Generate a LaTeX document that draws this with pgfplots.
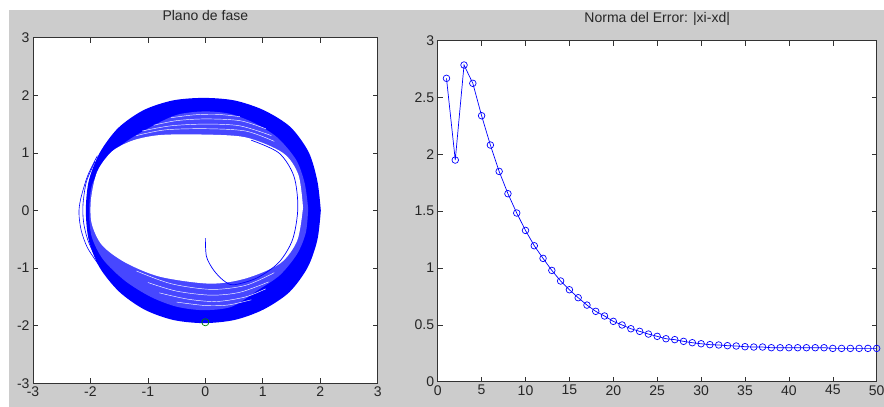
\documentclass[border=0pt]{standalone}
\usepackage{fontspec}
\setmainfont{Liberation Sans}
\usepackage{pgfplots}
\pgfplotsset{compat=1.18}
\definecolor{figgrey}{HTML}{CCCCCC}
\definecolor{mblue}{RGB}{0,0,255}
\definecolor{mgreen}{RGB}{0,128,0}

\pgfplotsset{
  mstyle/.style={
    scale only axis, axis background/.style={fill=white},
    tick align=inside, major tick length=5pt,
    axis line style={black!80, line width=0.7pt},
    tick style={black!80, line width=0.6pt},
    tick label style={font=\fontsize{14}{16}\selectfont, text=black!85},
    /pgf/number format/assume math mode=true,
    title style={font=\fontsize{14}{16}\selectfont, text=black!85,
                 at={(0.5,1)}, anchor=center, yshift=16pt},
  },
  gap/.style={white, line width=0.45pt, smooth},
}

\begin{document}
\begin{tikzpicture}
\useasboundingbox (0pt,0pt) rectangle (884pt,407pt);
\fill[white] (0pt,0pt) rectangle (884pt,407pt);
\fill[figgrey] (9pt,0pt) rectangle (884pt,397pt);

% phase plane
\begin{axis}[mstyle, at={(33pt,23.7pt)}, anchor=south west,
  width=344.7pt, height=345.6pt,
  xmin=-3, xmax=3, ymin=-3, ymax=3,
  xtick={-3,...,3}, ytick={-3,...,3},
  title={Plano de fase}]
% outer edge of the band
\addplot[draw=none, fill=mblue, smooth] coordinates {
  (2.01,0) (1.95,0.51) (1.80,1.01) (1.48,1.45) (1.02,1.74) (0.51,1.91)
  (-0.03,1.955) (-0.57,1.91) (-1.08,1.74) (-1.52,1.43) (-1.84,1.0)
  (-2.03,0.51) (-2.08,0) (-2.03,-0.51) (-1.84,-0.99) (-1.50,-1.41)
  (-1.06,-1.72) (-0.56,-1.90) (-0.03,-1.955) (0.51,-1.90) (1.01,-1.72)
  (1.46,-1.42) (1.78,-0.99) (1.95,-0.51) (2.01,0)};
% striped part of the band
\addplot[draw=none, fill=mblue!72!white, smooth] coordinates {
  (1.79,0.03) (1.73,0.47) (1.58,0.88) (1.25,1.27) (0.85,1.52) (0.42,1.68)
  (-0.03,1.72) (-0.50,1.66) (-0.95,1.45) (-1.40,1.18) (-1.72,0.86)
  (-1.97,0.45) (-2.02,0.0) (-1.98,-0.45) (-1.78,-0.85) (-1.40,-1.22)
  (-0.95,-1.50) (-0.50,-1.67) (-0.03,-1.73) (0.46,-1.67) (0.92,-1.38)
  (1.30,-1.12) (1.60,-0.75) (1.75,-0.38) (1.79,0.03)};
% gaps between the turns
\addplot[gap] coordinates {(-1.2,1.30) (-0.7,1.40) (0,1.42) (0.7,1.38) (1.2,1.20)};
\addplot[gap] coordinates {(-1.1,1.38) (-0.6,1.47) (0,1.50) (0.6,1.47) (1.15,1.30)};
\addplot[gap] coordinates {(-0.9,1.48) (-0.5,1.56) (0,1.59) (0.6,1.56) (1.05,1.42)};
\addplot[gap] coordinates {(-0.6,1.61) (-0.2,1.66) (0.2,1.67) (0.6,1.63)};
\addplot[gap] coordinates {(-1.2,-1.05) (-0.6,-1.27) (0.1,-1.37) (0.7,-1.30) (1.2,-1.08)};
\addplot[gap] coordinates {(-1.0,-1.25) (-0.5,-1.40) (0.1,-1.47) (0.6,-1.42) (1.1,-1.24)};
\addplot[gap] coordinates {(-0.8,-1.43) (-0.3,-1.54) (0.2,-1.58) (0.7,-1.50) (1.05,-1.36)};
\addplot[gap] coordinates {(-0.5,-1.59) (0,-1.65) (0.4,-1.64) (0.8,-1.55)};
% empty inside
\addplot[draw=none, fill=white, smooth] coordinates {
  (1.70,0.05) (1.62,0.62) (1.35,1.0) (0.70,1.27) (-0.09,1.32) (-0.79,1.31)
  (-1.25,1.22) (-1.62,1.03) (-1.88,0.68) (-1.99,0.20) (-1.98,-0.22)
  (-1.80,-0.60) (-1.40,-0.90) (-0.79,-1.15) (0.08,-1.27) (0.70,-1.18)
  (1.30,-0.92) (1.60,-0.52) (1.70,0.05)};
% first loop and transient
\addplot[mblue, line width=0.7pt, smooth] coordinates {
  (0.0,-0.48) (0.02,-0.80) (0.14,-1.03) (0.31,-1.21) (0.49,-1.29)
  (0.9,-1.17) (1.28,-0.90) (1.52,-0.5) (1.61,0.05) (1.54,0.6) (1.28,1.0) (0.8,1.22)};
% thin outer lines on the left
\addplot[mblue, line width=0.6pt, smooth] coordinates {
  (-1.88,0.95) (-2.05,0.6) (-2.17,0.2) (-2.2,-0.05) (-2.16,-0.35) (-2.05,-0.65) (-1.85,-0.95)};
\addplot[mblue, line width=0.6pt, smooth] coordinates {
  (-1.92,0.85) (-2.07,0.5) (-2.13,0.1) (-2.12,-0.2) (-2.05,-0.5) (-1.92,-0.8)};
% end point
\addplot[only marks, mark=o, mark size=3.6pt, mgreen, mark options={line width=0.7pt}]
  coordinates {(0,-1.94)};
\end{axis}

% error norm
\begin{axis}[mstyle, at={(437.7pt,25.3pt)}, anchor=south west,
  width=439pt, height=341pt,
  xmin=0, xmax=50, ymin=0, ymax=3,
  xtick={0,5,...,50}, ytick={0,0.5,...,3},
  title={Norma del Error: |xi-xd|}]
\addplot[mblue, line width=0.7pt, mark=o, mark size=3.3pt,
  mark options={line width=0.7pt}] coordinates {
  (1,2.669) (2,1.950) (3,2.786) (4,2.625) (5,2.340) (6,2.082) (7,1.850)
  (8,1.654) (9,1.484) (10,1.331) (11,1.196) (12,1.085) (13,0.979) (14,0.886)
  (15,0.809) (16,0.739) (17,0.674) (18,0.619) (19,0.578) (20,0.531)
  (21,0.499) (22,0.466) (23,0.443) (24,0.419) (25,0.399) (26,0.378)
  (27,0.370) (28,0.355) (29,0.343) (30,0.334) (31,0.326) (32,0.323)
  (33,0.317) (34,0.314) (35,0.308) (36,0.305) (37,0.305) (38,0.299)
  (39,0.299) (40,0.299) (41,0.299) (42,0.299) (43,0.299) (44,0.299)
  (45,0.293) (46,0.293) (47,0.293) (48,0.293) (49,0.293) (50,0.293)};
\end{axis}
\end{tikzpicture}
\end{document}
